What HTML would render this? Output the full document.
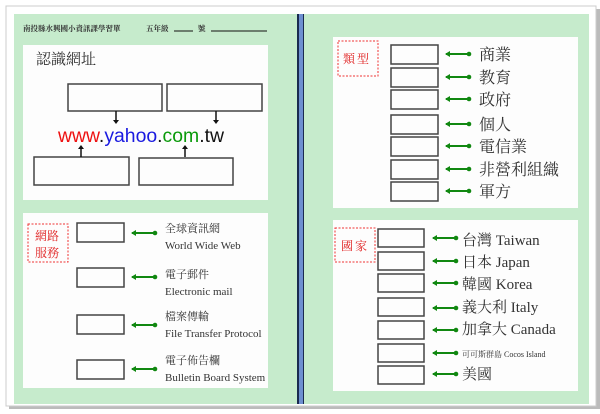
<!DOCTYPE html>
<html><head><meta charset="utf-8"><style>
body{margin:0;width:600px;height:414px;background:#fff;overflow:hidden}
svg{display:block}
.cj{font-family:"Liberation Serif","Noto Serif CJK TC","Noto Serif CJK SC",serif;fill:#333}
.st{font-family:"Liberation Serif","Noto Serif CJK TC","Noto Serif CJK SC",serif;fill:#e02020}
</style></head><body>
<svg width="600" height="414" viewBox="0 0 600 414" xmlns="http://www.w3.org/2000/svg">
<defs>
<marker id="ah" markerWidth="6" markerHeight="6" refX="1" refY="3" orient="auto"><path d="M5,0 L0,3 L5,6 Z" fill="#118811"/></marker>
<g id="ga"><line x1="1" y1="0" x2="24" y2="0" stroke="#118811" stroke-width="2"/><path d="M0,0 L5,-3 L5,3Z" fill="#118811"/><circle cx="24" cy="0" r="2.3" fill="#118811"/></g>
</defs>
<!-- paper shadow -->
<rect x="9" y="9" width="591" height="400" fill="#bbb"/>
<rect x="6" y="6" width="590" height="400" fill="#fff" stroke="#ccc"/>
<rect x="14" y="14" width="575" height="390" fill="#c6ebcc"/>
<!-- divider -->
<rect x="297" y="14" width="2" height="390" fill="#1a2a50"/>
<rect x="299" y="14" width="4" height="390" fill="#6d8fd0"/>
<rect x="303" y="14" width="1" height="390" fill="#1a2a50"/>
<!-- header -->
<text x="23" y="31" font-size="7.5" font-weight="bold" class="cj" fill="#111">南投縣水興國小資訊課學習單</text>
<text x="146" y="31" font-size="7.5" font-weight="bold" class="cj" fill="#111">五年級</text>
<line x1="174" y1="31" x2="193" y2="31" stroke="#111"/>
<text x="198" y="31" font-size="7.5" font-weight="bold" class="cj" fill="#111">號</text>
<line x1="211" y1="31" x2="267" y2="31" stroke="#111"/>
<!-- left panel 1 -->
<rect x="23" y="45" width="245" height="155" fill="#fdfdfd"/>
<text x="36" y="64" font-size="15" class="cj" fill="#222">認識網址</text>
<g fill="none" stroke="#444" stroke-width="1.5">
<rect x="68" y="84" width="94" height="27"/><rect x="167" y="84" width="95" height="27"/>
<rect x="34" y="157" width="95" height="28"/><rect x="139" y="158" width="94" height="27"/>
</g>
<g stroke="#111" stroke-width="1.5"><line x1="116" y1="111" x2="116" y2="121"/><line x1="216" y1="111" x2="216" y2="121"/>
<line x1="81" y1="157" x2="81" y2="148"/><line x1="185" y1="157" x2="185" y2="148"/></g>
<g fill="#111"><path d="M113,120 L119,120 L116,124Z"/><path d="M213,120 L219,120 L216,124Z"/>
<path d="M78,149 L84,149 L81,145Z"/><path d="M182,149 L188,149 L185,145Z"/></g>
<text x="58" y="142" font-size="19" font-family="Liberation Sans,sans-serif" textLength="166" lengthAdjust="spacingAndGlyphs"><tspan fill="#ee1111">www</tspan><tspan fill="#111">.</tspan><tspan fill="#1a1ae0">yahoo</tspan><tspan fill="#111">.</tspan><tspan fill="#0a9a0a">com</tspan><tspan fill="#111">.tw</tspan></text>
<!-- left panel 2 -->
<rect x="23" y="213" width="245" height="175" fill="#fdfdfd"/>
<rect x="28" y="224" width="40" height="38" fill="none" stroke="#e33" stroke-dasharray="2,1.5"/>
<text x="35" y="240" font-size="12" class="st">網路</text>
<text x="35" y="257" font-size="12" class="st">服務</text>
<g fill="none" stroke="#444" stroke-width="1.5">
<rect x="77" y="223" width="47" height="19"/><rect x="77" y="268" width="47" height="19"/>
<rect x="77" y="315" width="47" height="19"/><rect x="77" y="360" width="47" height="19"/>
</g>
<use href="#ga" x="131" y="233"/><use href="#ga" x="131" y="277"/><use href="#ga" x="131" y="325"/><use href="#ga" x="131" y="369"/>
<g class="cj" font-size="11">
<text x="165" y="232">全球資訊網</text><text x="165" y="249">World Wide Web</text>
<text x="165" y="278">電子郵件</text><text x="165" y="295">Electronic mail</text>
<text x="165" y="320">檔案傳輸</text><text x="165" y="337">File Transfer Protocol</text>
<text x="165" y="364">電子佈告欄</text><text x="165" y="381">Bulletin Board System</text>
</g>
<!-- right panel 1 -->
<rect x="333" y="37" width="245" height="171" fill="#fdfdfd"/>
<rect x="338" y="41" width="40" height="35" fill="none" stroke="#e33" stroke-dasharray="2,1.5"/>
<text x="343" y="63" font-size="12" class="st" letter-spacing="2">類型</text>
<g fill="none" stroke="#444" stroke-width="1.5">
<rect x="391" y="45" width="47" height="19"/><rect x="391" y="68" width="47" height="19"/>
<rect x="391" y="90" width="47" height="19"/><rect x="391" y="115" width="47" height="19"/>
<rect x="391" y="137" width="47" height="19"/><rect x="391" y="160" width="47" height="19"/>
<rect x="391" y="182" width="47" height="19"/>
</g>
<use href="#ga" x="445" y="54"/><use href="#ga" x="445" y="77"/><use href="#ga" x="445" y="99"/><use href="#ga" x="445" y="124"/><use href="#ga" x="445" y="146"/><use href="#ga" x="445" y="169"/><use href="#ga" x="445" y="191"/>
<g class="cj" font-size="16">
<text x="479" y="60">商業</text><text x="479" y="83">教育</text><text x="479" y="105">政府</text>
<text x="479" y="130">個人</text><text x="479" y="152">電信業</text><text x="479" y="175">非營利組織</text><text x="479" y="197">軍方</text>
</g>
<!-- right panel 2 -->
<rect x="333" y="220" width="245" height="171" fill="#fdfdfd"/>
<rect x="335" y="228" width="40" height="34" fill="none" stroke="#e33" stroke-dasharray="2,1.5"/>
<text x="341" y="250" font-size="12" class="st" letter-spacing="2">國家</text>
<g fill="none" stroke="#444" stroke-width="1.5">
<rect x="378" y="229" width="46" height="18"/><rect x="378" y="252" width="46" height="18"/>
<rect x="378" y="274" width="46" height="18"/><rect x="378" y="298" width="46" height="18"/>
<rect x="378" y="321" width="46" height="18"/><rect x="378" y="344" width="46" height="18"/>
<rect x="378" y="366" width="46" height="18"/>
</g>
<use href="#ga" x="432" y="238"/><use href="#ga" x="432" y="261"/><use href="#ga" x="432" y="283"/><use href="#ga" x="432" y="308"/><use href="#ga" x="432" y="330"/><use href="#ga" x="432" y="353"/><use href="#ga" x="432" y="374"/>
<g class="cj" font-size="15">
<text x="462" y="245">台灣 Taiwan</text><text x="462" y="267">日本 Japan</text><text x="462" y="289">韓國 Korea</text>
<text x="462" y="312">義大利 Italy</text><text x="462" y="334">加拿大 Canada</text>
<text x="462" y="357" font-size="8">可可斯群島 Cocos Island</text><text x="462" y="379">美國</text>
</g>
</svg>
</body></html>
